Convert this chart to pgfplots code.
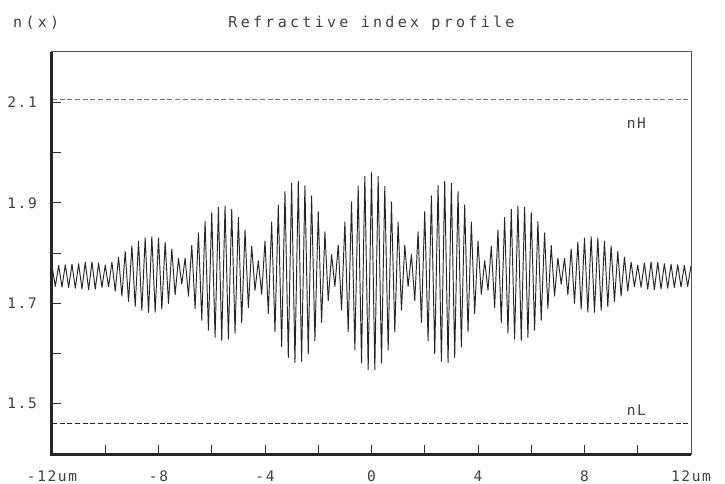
\documentclass[border=0pt]{standalone}
\usepackage{fontspec}
\usepackage{pgfplots}
\pgfplotsset{compat=1.18}
\newfontfamily\plotfont{DejaVu Sans Mono}[LetterSpace=11]
\newfontfamily\titlefont{DejaVu Sans Mono}[LetterSpace=22]
\definecolor{txt}{gray}{0.25}
\definecolor{crv}{gray}{0.15}

\pgfplotstableread{
x y
-12 1.7740
-11.875 1.7335
-11.75 1.7753
-11.625 1.7323
-11.5 1.7766
-11.375 1.7311
-11.25 1.7779
-11.125 1.7300
-11 1.7788
-10.875 1.7284
-10.75 1.7815
-10.625 1.7271
-10.5 1.7821
-10.375 1.7281
-10.25 1.7802
-10.125 1.7317
-10 1.7757
-9.875 1.7325
-9.75 1.7821
-9.625 1.7243
-9.5 1.7919
-9.375 1.7142
-9.25 1.8030
-9.125 1.7035
-9 1.8140
-8.875 1.6936
-8.75 1.8235
-8.625 1.6858
-8.5 1.8301
-8.375 1.6817
-8.25 1.8325
-8.125 1.6823
-8 1.8298
-7.875 1.6882
-7.75 1.8217
-7.625 1.6998
-7.5 1.8079
-7.375 1.7168
-7.25 1.7891
-7.125 1.7382
-7 1.7901
-6.875 1.7143
-6.75 1.8152
-6.625 1.6896
-6.5 1.8402
-6.375 1.6661
-6.25 1.8627
-6.125 1.6461
-6 1.8806
-5.875 1.6321
-5.75 1.8912
-5.625 1.6260
-5.5 1.8935
-5.375 1.6286
-5.25 1.8867
-5.125 1.6406
-5 1.8706
-4.875 1.6617
-4.75 1.8456
-4.625 1.6909
-4.5 1.8137
-4.375 1.7258
-4.25 1.7847
-4.125 1.7178
-4 1.8239
-3.875 1.6795
-3.75 1.8618
-3.625 1.6436
-3.5 1.8955
-3.375 1.6136
-3.25 1.9220
-3.125 1.5921
-3 1.9388
-2.875 1.5818
-2.75 1.9426
-2.625 1.5843
-2.5 1.9342
-2.375 1.5992
-2.25 1.9137
-2.125 1.6254
-2 1.8825
-1.875 1.6618
-1.75 1.8422
-1.625 1.7051
-1.5 1.7968
-1.375 1.7332
-1.25 1.8159
-1.125 1.6862
-1 1.8618
-0.875 1.6429
-0.75 1.9017
-0.625 1.6071
-0.5 1.9327
-0.375 1.5814
-0.25 1.9527
-0.125 1.5677
0 1.9599
0.125 1.5677
0.25 1.9527
0.375 1.5814
0.5 1.9327
0.625 1.6071
0.75 1.9017
0.875 1.6429
1 1.8618
1.125 1.6862
1.25 1.8159
1.375 1.7332
1.5 1.7968
1.625 1.7051
1.75 1.8422
1.875 1.6618
2 1.8825
2.125 1.6254
2.25 1.9137
2.375 1.5992
2.5 1.9342
2.625 1.5843
2.75 1.9426
2.875 1.5818
3 1.9388
3.125 1.5921
3.25 1.9220
3.375 1.6136
3.5 1.8955
3.625 1.6436
3.75 1.8618
3.875 1.6795
4 1.8239
4.125 1.7178
4.25 1.7847
4.375 1.7258
4.5 1.8137
4.625 1.6909
4.75 1.8456
4.875 1.6617
5 1.8706
5.125 1.6406
5.25 1.8867
5.375 1.6286
5.5 1.8935
5.625 1.6260
5.75 1.8912
5.875 1.6321
6 1.8806
6.125 1.6461
6.25 1.8627
6.375 1.6661
6.5 1.8402
6.625 1.6896
6.75 1.8152
6.875 1.7143
7 1.7901
7.125 1.7382
7.25 1.7891
7.375 1.7168
7.5 1.8079
7.625 1.6998
7.75 1.8217
7.875 1.6882
8 1.8298
8.125 1.6823
8.25 1.8325
8.375 1.6817
8.5 1.8301
8.625 1.6858
8.75 1.8235
8.875 1.6936
9 1.8140
9.125 1.7035
9.25 1.8030
9.375 1.7142
9.5 1.7919
9.625 1.7243
9.75 1.7821
9.875 1.7325
10 1.7757
10.125 1.7317
10.25 1.7802
10.375 1.7281
10.5 1.7821
10.625 1.7271
10.75 1.7815
10.875 1.7284
11 1.7788
11.125 1.7300
11.25 1.7779
11.375 1.7311
11.5 1.7766
11.625 1.7323
11.75 1.7753
11.875 1.7335
12 1.7740
}\profile

\begin{document}
\begin{tikzpicture}
\path[use as bounding box] (-52bp,-30bp) rectangle (673bp,454bp);
\begin{axis}[
  scale only axis, width=639bp, height=402bp,
  xmin=-12, xmax=12, ymin=1.4, ymax=2.2,
  clip=false,
  axis line style={line width=1bp, color=black!65},
  tick pos=left, tick align=inside,
  xtick={-12,-8,-4,0,4,8,12},
  xticklabels={-12um,-8,-4,0,4,8,12um},
  minor xtick={-10,-6,-2,2,6,10},
  ytick={1.5,1.7,1.9,2.1},
  yticklabels={1.5,1.7,1.9,2.1},
  minor ytick={1.6,1.8,2.0},
  major tick length=9bp, minor tick length=9bp,
  tick style={line width=1bp, color=black!80},
  ticklabel style={font=\plotfont\fontsize{14.5bp}{17bp}\selectfont, text=txt, inner sep=0pt},
  xticklabel style={yshift=-16.5bp},
  yticklabel style={xshift=-15bp},
]
\addplot[line width=0.9bp, color=black!55, dash pattern=on 5bp off 2.7bp] coordinates {(-12,2.106) (12,2.106)};
\addplot[line width=1.2bp, color=black!85, dash pattern=on 5bp off 2.7bp] coordinates {(-12,1.46) (12,1.46)};
\addplot[line width=0.95bp, color=crv, line join=round] table[x=x, y=y] {\profile};
\draw[line width=3bp, color=black!85] (rel axis cs:0,1) -- (rel axis cs:0,0) -- (rel axis cs:1,0);
\node[anchor=base, font=\titlefont\fontsize{15bp}{18bp}\selectfont, text=txt, inner sep=0pt] at (rel axis cs:0.5,1) [yshift=25bp] {Refractive index profile};
\node[anchor=base west, font=\titlefont\fontsize{15bp}{18bp}\selectfont, text=txt, inner sep=0pt] at (rel axis cs:0,1) [xshift=-39bp, yshift=25bp] {n(x)};
\node[font=\plotfont\fontsize{14.5bp}{17bp}\selectfont, text=txt, inner sep=0pt] at (axis cs:9.95,2.058) {nH};
\node[font=\plotfont\fontsize{14.5bp}{17bp}\selectfont, text=txt, inner sep=0pt] at (axis cs:9.95,1.488) {nL};
\end{axis}
\end{tikzpicture}
\end{document}
